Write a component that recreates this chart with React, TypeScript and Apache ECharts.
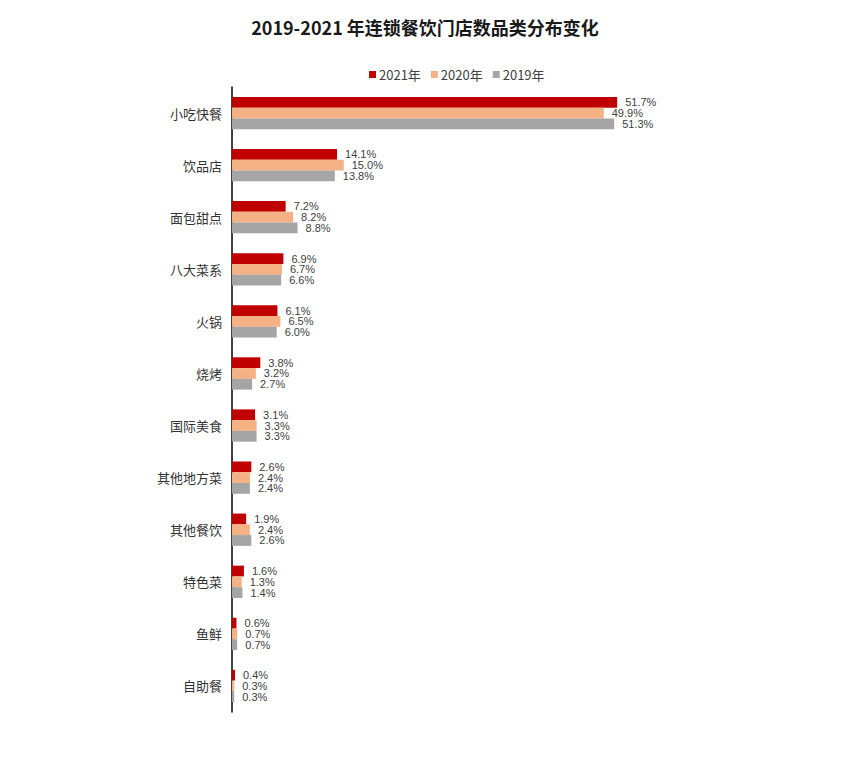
import React, { useEffect, useRef } from 'react';
import * as echarts from 'echarts';

const categories = ['小吃快餐', '饮品店', '面包甜点', '八大菜系', '火锅', '烧烤', '国际美食', '其他地方菜', '其他餐饮', '特色菜', '鱼鲜', '自助餐'];
const values2021 = [51.7, 14.1, 7.2, 6.9, 6.1, 3.8, 3.1, 2.6, 1.9, 1.6, 0.6, 0.4];
const values2020 = [49.9, 15.0, 8.2, 6.7, 6.5, 3.2, 3.3, 2.4, 2.4, 1.3, 0.7, 0.3];
const values2019 = [51.3, 13.8, 8.8, 6.6, 6.0, 2.7, 3.3, 2.4, 2.6, 1.4, 0.7, 0.3];

const cjk = '"Noto Sans CJK SC", "Noto Sans", sans-serif';

const App: React.FC = () => {
  const chartRef = useRef<HTMLDivElement>(null);

  useEffect(() => {
    if (!chartRef.current) return;
    const chart = echarts.init(chartRef.current, undefined, { renderer: 'svg' });

    const label = {
      show: true,
      position: 'right' as const,
      distance: 8,
      formatter: (p: any) => p.value.toFixed(1) + '%',
      color: '#404040',
      fontSize: 11,
      lineHeight: 10,
      fontFamily: '"Liberation Sans Narrow", "Liberation Sans", sans-serif',
    };

    const mk = (name: string, data: number[], color: string) => ({
      name,
      type: 'bar' as const,
      data,
      barGap: '0%',
      barCategoryGap: '38%',
      itemStyle: { color },
      label,
    });

    const option: echarts.EChartsOption = {
      animation: false,
      backgroundColor: '#fff',
      title: {
        text: '2019-2021 年连锁餐饮门店数品类分布变化',
        left: 'center',
        top: 13,
        textStyle: { fontFamily: cjk, fontSize: 18, fontWeight: 'bold', color: '#1a1a1a' },
      },
      legend: {
        top: 63,
        left: 364,
        itemWidth: 7,
        itemHeight: 7,
        itemGap: 10,
        icon: 'rect',
        textStyle: { fontFamily: cjk, fontSize: 13, color: '#404040', padding: [0, 0, 0, -2] },
        data: ['2021年', '2020年', '2019年'],
      },
      grid: { left: 232, top: 87, width: 447, height: 625, containLabel: false },
      xAxis: {
        type: 'value',
        min: 0,
        max: 60,
        show: false,
      },
      yAxis: {
        type: 'category',
        data: categories,
        inverse: true,
        axisLine: { show: true, lineStyle: { color: '#000', width: 1.5 } },
        axisTick: { show: false },
        axisLabel: { margin: 10, fontFamily: cjk, fontSize: 13, color: '#333' },
      },
      series: [
        mk('2021年', values2021, '#C00000'),
        mk('2020年', values2020, '#F4B183'),
        mk('2019年', values2019, '#A5A5A5'),
      ],
    };

    chart.setOption(option);
    return () => {
      chart.dispose();
    };
  }, []);

  return <div ref={chartRef} style={{ width: 850, height: 760, margin: -8 }} />;
};

export default App;
